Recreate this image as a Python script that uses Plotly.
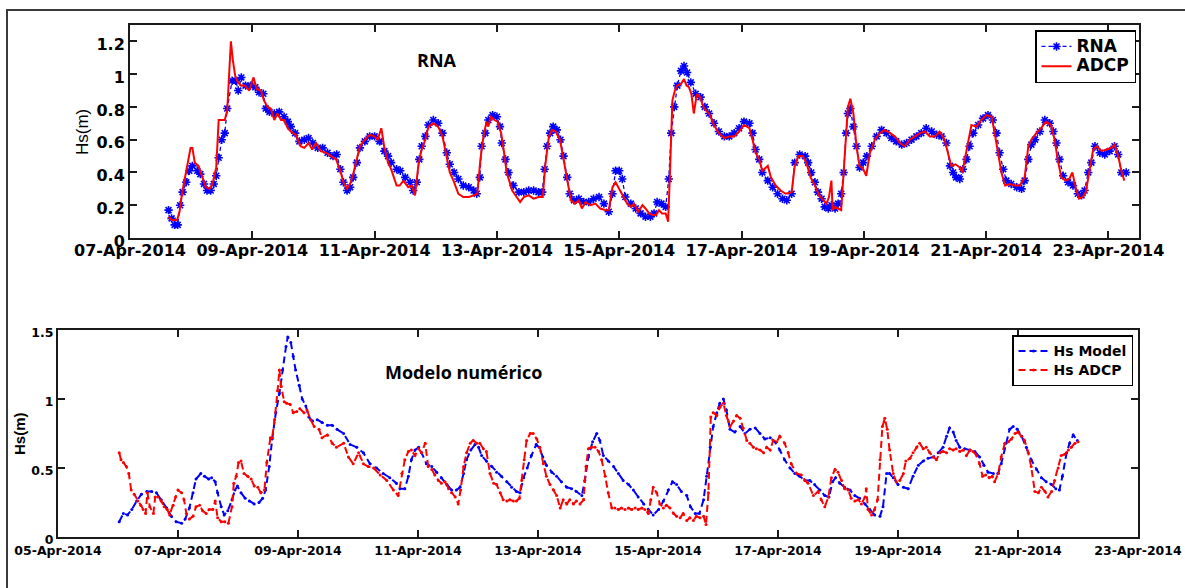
import numpy as np
import pandas as pd
import plotly.graph_objects as go

# ---------------- data (day of April 2014, Hs in metres) ----------------
rna_day = [7.63, 7.68, 7.73, 7.78, 7.82, 7.86, 7.92, 7.97, 8.02, 8.10, 8.15, 8.21, 8.26, 8.32, 8.37, 8.41, 8.45, 8.50,
           8.55, 8.59, 8.67, 8.73, 8.77, 8.82, 8.89, 8.97, 9.05, 9.11, 9.18, 9.22, 9.28, 9.36, 9.44, 9.52, 9.58, 9.63,
           9.70, 9.77, 9.85, 9.92, 9.99, 10.07, 10.15, 10.23, 10.32, 10.38, 10.44, 10.49, 10.55, 10.60, 10.65, 10.71,
           10.76, 10.84, 10.92, 11.00, 11.08, 11.16, 11.22, 11.27, 11.36, 11.42, 11.50, 11.58, 11.63, 11.69, 11.73,
           11.77, 11.83, 11.88, 11.96, 12.04, 12.11, 12.18, 12.23, 12.30, 12.37, 12.45, 12.54, 12.62, 12.67, 12.72,
           12.75, 12.81, 12.86, 12.93, 13.00, 13.05, 13.08, 13.14, 13.19, 13.27, 13.36, 13.44, 13.52, 13.60, 13.68,
           13.74, 13.78, 13.82, 13.87, 13.92, 13.98, 14.04, 14.09, 14.15, 14.19, 14.26, 14.34, 14.42, 14.50, 14.58,
           14.67, 14.75, 14.83, 14.89, 14.94, 15.00, 15.05, 15.10, 15.19, 15.27, 15.35, 15.43, 15.51, 15.57, 15.62,
           15.69, 15.76, 15.81, 15.85, 15.90, 15.95, 16.01, 16.06, 16.11, 16.17, 16.25, 16.33, 16.40, 16.47, 16.55,
           16.63, 16.72, 16.80, 16.88, 16.96, 17.04, 17.13, 17.18, 17.23, 17.29, 17.34, 17.43, 17.51, 17.59, 17.67,
           17.74, 17.82, 17.87, 17.95, 18.04, 18.09, 18.14, 18.20, 18.25, 18.31, 18.36, 18.42, 18.47, 18.53, 18.58,
           18.63, 18.67, 18.71, 18.74, 18.78, 18.83, 18.88, 18.93, 18.99, 19.05, 19.13, 19.21, 19.29, 19.37, 19.45,
           19.53, 19.62, 19.70, 19.78, 19.86, 19.94, 20.02, 20.11, 20.19, 20.27, 20.35, 20.41, 20.46, 20.51, 20.57,
           20.62, 20.68, 20.73, 20.79, 20.87, 20.95, 21.03, 21.11, 21.17, 21.22, 21.28, 21.33, 21.41, 21.50, 21.58,
           21.63, 21.69, 21.74, 21.80, 21.88, 21.96, 22.04, 22.10, 22.15, 22.20, 22.26, 22.34, 22.42, 22.50, 22.56,
           22.61, 22.67, 22.72, 22.78, 22.86, 22.94, 23.02, 23.10, 23.16, 23.21, 23.29]
rna_hs = [0.17, 0.12, 0.08, 0.08, 0.20, 0.28, 0.34, 0.41, 0.44, 0.41, 0.39, 0.33, 0.29, 0.29, 0.33, 0.38, 0.49, 0.60,
          0.64, 0.79, 0.96, 0.96, 0.90, 0.98, 0.93, 0.93, 0.92, 0.89, 0.88, 0.79, 0.77, 0.76, 0.77, 0.74, 0.71, 0.68,
          0.64, 0.59, 0.60, 0.61, 0.58, 0.55, 0.55, 0.52, 0.50, 0.51, 0.42, 0.34, 0.29, 0.31, 0.37, 0.46,
          0.55, 0.59, 0.62, 0.62, 0.59, 0.53, 0.50, 0.46, 0.42, 0.41, 0.37, 0.34, 0.29, 0.34, 0.48,
          0.56, 0.62, 0.69, 0.72, 0.70, 0.64, 0.52, 0.45, 0.40, 0.36, 0.32, 0.31, 0.29, 0.27, 0.37,
          0.56, 0.64, 0.72, 0.75, 0.74, 0.68, 0.58, 0.48, 0.40, 0.32, 0.28, 0.28, 0.29, 0.29, 0.28,
          0.28, 0.42, 0.56, 0.64, 0.68, 0.66, 0.60, 0.50, 0.37, 0.27, 0.23, 0.24, 0.22, 0.22, 0.24,
          0.25, 0.21, 0.16, 0.27, 0.41, 0.41, 0.36, 0.25, 0.21, 0.18, 0.15, 0.13, 0.13, 0.15, 0.22,
          0.21, 0.19, 0.36, 0.64, 0.80, 0.93, 1.02, 1.05, 1.01, 0.95, 0.88, 0.86, 0.80, 0.76, 0.70,
          0.65, 0.62, 0.62, 0.64, 0.67, 0.71, 0.70, 0.64, 0.54, 0.48, 0.40, 0.35, 0.31, 0.27, 0.24,
          0.23, 0.27, 0.46, 0.51, 0.50, 0.46, 0.40, 0.34, 0.28, 0.24, 0.19, 0.18, 0.20, 0.18, 0.21,
          0.27, 0.40, 0.64, 0.76, 0.79, 0.68, 0.56, 0.43, 0.46, 0.50, 0.56, 0.62, 0.66, 0.64, 0.61,
          0.59, 0.57, 0.58, 0.60, 0.62, 0.64, 0.67, 0.65, 0.63, 0.62, 0.58, 0.44, 0.40, 0.37, 0.36,
          0.42, 0.48, 0.56, 0.64, 0.69, 0.73, 0.75, 0.72, 0.64, 0.52, 0.42, 0.35, 0.33, 0.31, 0.30,
          0.35, 0.48, 0.57, 0.60, 0.65, 0.72, 0.70, 0.65, 0.58, 0.48, 0.38, 0.34, 0.32, 0.27, 0.26,
          0.29, 0.40, 0.46, 0.56, 0.52, 0.51, 0.53, 0.56, 0.51, 0.40, 0.40]

adcp_day = [7.63, 7.68, 7.77, 7.81, 7.85, 7.90, 7.96, 7.99, 8.02, 8.06, 8.12, 8.18, 8.24, 8.30, 8.35, 8.41, 8.45, 8.51,
            8.55, 8.59, 8.62, 8.65, 8.68, 8.72, 8.75, 8.81, 8.88, 8.95, 9.02, 9.07, 9.14, 9.19, 9.25, 9.30, 9.36, 9.41,
            9.47, 9.52, 9.58, 9.63, 9.71, 9.79, 9.85, 9.92, 9.98, 10.04, 10.12, 10.21, 10.29, 10.37, 10.44, 10.49,
            10.55, 10.60, 10.65, 10.71, 10.76, 10.84, 10.92, 11.00, 11.05, 11.11, 11.16, 11.22, 11.27, 11.36, 11.41,
            11.47, 11.55, 11.61, 11.66, 11.72, 11.77, 11.83, 11.88, 11.96, 12.04, 12.11, 12.18, 12.23, 12.29, 12.37,
            12.45, 12.54, 12.62, 12.68, 12.73, 12.78, 12.83, 12.86, 12.90, 12.96, 13.01, 13.07, 13.11, 13.16, 13.25,
            13.33, 13.38, 13.44, 13.52, 13.60, 13.68, 13.75, 13.79, 13.85, 13.90, 13.96, 14.03, 14.09, 14.15, 14.21,
            14.28, 14.34, 14.39, 14.45, 14.53, 14.61, 14.69, 14.78, 14.83, 14.89, 14.94, 15.00, 15.05, 15.13, 15.19,
            15.24, 15.31, 15.38, 15.43, 15.49, 15.54, 15.60, 15.65, 15.70, 15.76, 15.80, 15.83, 15.87, 15.91, 15.95,
            16.01, 16.06, 16.10, 16.14, 16.18, 16.22, 16.27, 16.32, 16.39, 16.47, 16.55, 16.63, 16.72, 16.80, 16.88,
            16.96, 17.04, 17.13, 17.18, 17.23, 17.29, 17.34, 17.43, 17.48, 17.56, 17.64, 17.72, 17.82, 17.87, 17.93,
            18.00, 18.06, 18.13, 18.20, 18.27, 18.34, 18.39, 18.43, 18.47, 18.49, 18.53, 18.58, 18.63, 18.67, 18.71,
            18.74, 18.78, 18.83, 18.88, 18.93, 18.99, 19.04, 19.10, 19.18, 19.26, 19.34, 19.43, 19.51, 19.59, 19.67,
            19.75, 19.83, 19.92, 20.00, 20.08, 20.16, 20.24, 20.32, 20.38, 20.43, 20.50, 20.57, 20.61, 20.65, 20.70,
            20.76, 20.84, 20.92, 21.01, 21.09, 21.14, 21.20, 21.25, 21.31, 21.39, 21.47, 21.55, 21.63, 21.69, 21.74,
            21.82, 21.90, 21.98, 22.06, 22.12, 22.17, 22.23, 22.30, 22.36, 22.41, 22.47, 22.52, 22.58, 22.63, 22.69,
            22.75, 22.81, 22.89, 22.97, 23.05, 23.10, 23.16, 23.21, 23.26]
adcp_hs = [0.13, 0.11, 0.11, 0.16, 0.27, 0.37, 0.48, 0.55, 0.55, 0.46, 0.44, 0.37, 0.31, 0.30, 0.33, 0.43, 0.72, 0.72,
           0.72, 0.78, 0.97, 1.20, 1.09, 0.99, 0.96, 0.93, 0.93, 0.90, 0.98, 0.91, 0.90, 0.84, 0.80, 0.79, 0.72, 0.76,
           0.72, 0.72, 0.67, 0.65, 0.63, 0.56, 0.55, 0.58, 0.54, 0.58, 0.53, 0.52, 0.50, 0.48, 0.41, 0.34,
           0.30, 0.33, 0.39, 0.48, 0.56, 0.60, 0.63, 0.62, 0.60, 0.67, 0.55, 0.46, 0.42, 0.32, 0.32,
           0.35, 0.31, 0.32, 0.26, 0.46, 0.54, 0.60, 0.68, 0.70, 0.68, 0.62, 0.48, 0.40, 0.35, 0.27,
           0.25, 0.25, 0.26, 0.27, 0.48, 0.62, 0.71, 0.68, 0.74, 0.72, 0.71, 0.64, 0.54, 0.40, 0.29,
           0.25, 0.22, 0.25, 0.26, 0.24, 0.25, 0.25, 0.44, 0.62, 0.66, 0.65, 0.60, 0.48, 0.35, 0.23,
           0.21, 0.23, 0.18, 0.22, 0.20, 0.21, 0.18, 0.17, 0.17, 0.31, 0.34, 0.30, 0.26, 0.21, 0.19,
           0.21, 0.16, 0.20, 0.18, 0.15, 0.14, 0.14, 0.17, 0.15, 0.15, 0.10, 0.40, 0.84, 0.90, 0.93,
           0.94, 0.97, 0.93, 0.92, 0.88, 0.76, 0.88, 0.86, 0.79, 0.76, 0.69, 0.64, 0.61, 0.62, 0.62,
           0.65, 0.69, 0.67, 0.60, 0.52, 0.48, 0.41, 0.44, 0.37, 0.32, 0.29, 0.27, 0.28, 0.44, 0.50,
           0.50, 0.46, 0.37, 0.32, 0.26, 0.23, 0.21, 0.25, 0.35, 0.17, 0.19, 0.18, 0.17, 0.40, 0.60,
           0.80, 0.85, 0.76, 0.56, 0.44, 0.42, 0.38, 0.52, 0.60, 0.64, 0.66, 0.64, 0.62, 0.58, 0.56,
           0.60, 0.62, 0.64, 0.65, 0.62, 0.62, 0.65, 0.60, 0.52, 0.44, 0.45, 0.43, 0.40, 0.48, 0.56,
           0.69, 0.68, 0.72, 0.75, 0.74, 0.64, 0.52, 0.40, 0.32, 0.33, 0.32, 0.32, 0.37, 0.56, 0.60,
           0.64, 0.67, 0.71, 0.69, 0.60, 0.48, 0.37, 0.35, 0.36, 0.40, 0.30, 0.24, 0.25, 0.28, 0.42,
           0.54, 0.56, 0.53, 0.54, 0.55, 0.57, 0.50, 0.41, 0.35]

model_day = [6.02, 6.09, 6.16, 6.23, 6.31, 6.39, 6.48, 6.56, 6.64, 6.72, 6.81, 6.89, 6.97, 7.06, 7.12, 7.19, 7.25,
             7.30, 7.38, 7.44, 7.51, 7.56, 7.62, 7.66, 7.72, 7.77, 7.83, 7.90, 7.95, 7.99, 8.05, 8.12, 8.19, 8.27,
             8.35, 8.41, 8.46, 8.52, 8.57, 8.63, 8.69, 8.74, 8.80, 8.83, 8.88, 8.92, 8.96, 9.02, 9.07, 9.13, 9.18,
             9.24, 9.32, 9.40, 9.49, 9.57, 9.65, 9.76, 9.87, 9.98, 10.09, 10.20, 10.31, 10.42, 10.53, 10.64, 10.70,
             10.78, 10.84, 10.89, 10.95, 11.01, 11.06, 11.14, 11.23, 11.31, 11.39, 11.48, 11.56, 11.64, 11.70, 11.76,
             11.81, 11.88, 11.95, 12.01, 12.06, 12.14, 12.23, 12.31, 12.39, 12.48, 12.56, 12.64, 12.70, 12.76, 12.82,
             12.89, 12.97, 13.02, 13.08, 13.14, 13.23, 13.31, 13.39, 13.48, 13.56, 13.64, 13.73, 13.78, 13.84, 13.91,
             13.98, 14.03, 14.09, 14.17, 14.26, 14.34, 14.42, 14.51, 14.59, 14.67, 14.76, 14.84, 14.92, 15.01, 15.09,
             15.17, 15.24, 15.31, 15.39, 15.48, 15.54, 15.62, 15.69, 15.76, 15.81, 15.87, 15.92, 15.98, 16.03, 16.09,
             16.14, 16.20, 16.28, 16.37, 16.45, 16.53, 16.62, 16.70, 16.78, 16.87, 16.95, 17.03, 17.11, 17.20, 17.28,
             17.36, 17.45, 17.53, 17.61, 17.70, 17.78, 17.85, 17.91, 17.96, 18.03, 18.11, 18.20, 18.28, 18.36, 18.45,
             18.53, 18.61, 18.70, 18.75, 18.81, 18.86, 18.92, 19.00, 19.09, 19.17, 19.25, 19.34, 19.42, 19.50, 19.59,
             19.67, 19.75, 19.81, 19.86, 19.92, 19.97, 20.03, 20.11, 20.20, 20.28, 20.36, 20.43, 20.50, 20.59, 20.67,
             20.72, 20.80, 20.86, 20.92, 20.99, 21.06, 21.14, 21.22, 21.31, 21.39, 21.47, 21.56, 21.63, 21.69, 21.74,
             21.81, 21.86, 21.92, 21.99]
model_hs = [0.11, 0.17, 0.16, 0.20, 0.26, 0.31, 0.33, 0.33, 0.32, 0.27, 0.21, 0.15, 0.11, 0.10, 0.13, 0.21, 0.32,
            0.42, 0.46, 0.44, 0.42, 0.43, 0.40, 0.32, 0.22, 0.16, 0.19, 0.27, 0.34, 0.37, 0.32, 0.28, 0.26, 0.24,
            0.25, 0.28, 0.34, 0.51, 0.71, 0.90, 1.04, 1.21, 1.38, 1.45, 1.41, 1.31, 1.21, 1.10, 1.00, 0.95, 0.87,
            0.84, 0.85, 0.83, 0.81, 0.81, 0.78, 0.75, 0.67, 0.65, 0.61, 0.53, 0.50, 0.46, 0.43, 0.39, 0.35,
            0.35, 0.44, 0.56, 0.63, 0.65, 0.61, 0.53, 0.51, 0.47, 0.43, 0.38, 0.34, 0.34, 0.36, 0.46,
            0.56, 0.63, 0.67, 0.65, 0.59, 0.55, 0.51, 0.47, 0.44, 0.40, 0.36, 0.33, 0.32, 0.43, 0.50,
            0.59, 0.67, 0.65, 0.58, 0.52, 0.47, 0.44, 0.40, 0.36, 0.35, 0.33, 0.30, 0.41, 0.58, 0.69,
            0.75, 0.70, 0.59, 0.55, 0.51, 0.46, 0.41, 0.38, 0.34, 0.29, 0.24, 0.20, 0.16, 0.20, 0.26,
            0.34, 0.40, 0.38, 0.33, 0.30, 0.22, 0.17, 0.17, 0.27, 0.44, 0.65, 0.80, 0.90, 0.97, 1.00,
            0.92, 0.78, 0.76, 0.80, 0.75, 0.78, 0.79, 0.75, 0.71, 0.72, 0.69, 0.63, 0.56, 0.50, 0.46,
            0.44, 0.41, 0.41, 0.38, 0.34, 0.30, 0.29, 0.40, 0.43, 0.39, 0.36, 0.34, 0.30, 0.28, 0.24,
            0.20, 0.16, 0.15, 0.22, 0.46, 0.46, 0.43, 0.38, 0.36, 0.35, 0.44, 0.52, 0.55, 0.57, 0.58,
            0.61, 0.65, 0.73, 0.79, 0.76, 0.70, 0.65, 0.64, 0.63, 0.62, 0.58, 0.52, 0.47, 0.46, 0.46,
            0.53, 0.68, 0.78, 0.80, 0.78, 0.73, 0.65, 0.56, 0.49, 0.43, 0.40, 0.38, 0.35, 0.34, 0.44,
            0.61, 0.68, 0.74, 0.70]

adcp2_day = [6.02, 6.05, 6.09, 6.14, 6.18, 6.22, 6.27, 6.33, 6.38, 6.42, 6.46, 6.49, 6.53, 6.59, 6.62, 6.67, 6.72,
             6.77, 6.82, 6.86, 6.92, 6.96, 7.00, 7.06, 7.10, 7.14, 7.19, 7.25, 7.30, 7.36, 7.41, 7.47, 7.52, 7.58,
             7.62, 7.66, 7.72, 7.78, 7.84, 7.90, 7.93, 7.97, 8.01, 8.05, 8.10, 8.16, 8.22, 8.27, 8.33, 8.38, 8.44,
             8.48, 8.54, 8.57, 8.61, 8.66, 8.69, 8.72, 8.77, 8.81, 8.87, 8.92, 8.98, 9.03, 9.10, 9.15, 9.21, 9.27,
             9.35, 9.40, 9.49, 9.57, 9.64, 9.76, 9.84, 9.92, 10.01, 10.09, 10.17, 10.26, 10.37, 10.48, 10.59, 10.67,
             10.73, 10.78, 10.84, 10.89, 10.95, 11.01, 11.06, 11.12, 11.17, 11.23, 11.28, 11.34, 11.39, 11.45, 11.51,
             11.56, 11.62, 11.67, 11.71, 11.76, 11.81, 11.87, 11.92, 11.98, 12.03, 12.09, 12.14, 12.20, 12.26, 12.31,
             12.37, 12.42, 12.48, 12.53, 12.59, 12.64, 12.69, 12.73, 12.77, 12.81, 12.87, 12.92, 12.98, 13.03, 13.09,
             13.14, 13.20, 13.26, 13.31, 13.37, 13.42, 13.48, 13.53, 13.59, 13.64, 13.70, 13.76, 13.80, 13.84, 13.89,
             13.95, 14.01, 14.06, 14.12, 14.17, 14.23, 14.28, 14.34, 14.39, 14.45, 14.51, 14.56, 14.62, 14.67, 14.73,
             14.78, 14.84, 14.88, 14.92, 14.98, 15.03, 15.09, 15.14, 15.20, 15.26, 15.31, 15.37, 15.42, 15.48, 15.53,
             15.59, 15.64, 15.70, 15.76, 15.80, 15.84, 15.88, 15.92, 15.98, 16.03, 16.09, 16.14, 16.20, 16.26, 16.31,
             16.37, 16.42, 16.48, 16.53, 16.59, 16.64, 16.70, 16.76, 16.81, 16.87, 16.92, 16.98, 17.03, 17.11, 17.17,
             17.22, 17.31, 17.39, 17.45, 17.50, 17.59, 17.67, 17.72, 17.78, 17.84, 17.89, 17.95, 18.00, 18.06, 18.11,
             18.17, 18.22, 18.28, 18.34, 18.39, 18.45, 18.47, 18.50, 18.56, 18.61, 18.66, 18.70, 18.74, 18.78, 18.82,
             18.86, 18.92, 18.97, 19.03, 19.09, 19.13, 19.20, 19.25, 19.31, 19.36, 19.42, 19.47, 19.53, 19.59, 19.64,
             19.70, 19.75, 19.81, 19.86, 19.92, 19.97, 20.03, 20.09, 20.14, 20.20, 20.25, 20.31, 20.36, 20.41, 20.46,
             20.52, 20.57, 20.61, 20.67, 20.72, 20.78, 20.84, 20.89, 20.95, 21.00, 21.06, 21.11, 21.17, 21.22, 21.28,
             21.34, 21.39, 21.45, 21.50, 21.56, 21.61, 21.67, 21.72, 21.78, 21.84, 21.89, 21.95, 22.00]
adcp2_hs = [0.61, 0.56, 0.54, 0.51, 0.46, 0.34, 0.31, 0.26, 0.23, 0.20, 0.17, 0.32, 0.22, 0.17, 0.29, 0.29, 0.26,
            0.22, 0.20, 0.16, 0.23, 0.29, 0.34, 0.32, 0.27, 0.17, 0.13, 0.15, 0.22, 0.23, 0.19, 0.17, 0.20, 0.20,
            0.26, 0.14, 0.11, 0.11, 0.10, 0.22, 0.39, 0.44, 0.54, 0.55, 0.46, 0.44, 0.42, 0.37, 0.36, 0.32, 0.34,
            0.54, 0.72, 0.72, 0.85, 1.06, 1.21, 1.09, 0.98, 0.97, 0.96, 0.90, 0.91, 0.93, 0.90, 0.92, 0.85, 0.80,
            0.78, 0.72, 0.74, 0.68, 0.65, 0.68, 0.58, 0.53, 0.61, 0.53, 0.51, 0.50, 0.45, 0.41, 0.34, 0.30,
            0.46, 0.56, 0.62, 0.63, 0.59, 0.64, 0.61, 0.68, 0.51, 0.49, 0.45, 0.41, 0.39, 0.40, 0.35,
            0.32, 0.29, 0.24, 0.34, 0.51, 0.61, 0.68, 0.70, 0.68, 0.68, 0.64, 0.62, 0.46, 0.39, 0.38,
            0.32, 0.27, 0.26, 0.27, 0.26, 0.26, 0.28, 0.41, 0.56, 0.70, 0.75, 0.75, 0.71, 0.65, 0.53,
            0.44, 0.38, 0.34, 0.30, 0.21, 0.27, 0.24, 0.27, 0.24, 0.26, 0.24, 0.27, 0.51, 0.64, 0.65,
            0.65, 0.62, 0.56, 0.44, 0.32, 0.21, 0.21, 0.20, 0.21, 0.20, 0.21, 0.20, 0.21, 0.20, 0.21,
            0.20, 0.17, 0.27, 0.36, 0.32, 0.24, 0.21, 0.23, 0.21, 0.17, 0.15, 0.14, 0.17, 0.12, 0.14,
            0.12, 0.15, 0.14, 0.15, 0.09, 0.32, 0.87, 0.90, 0.88, 0.94, 0.97, 0.88, 0.80, 0.84, 0.88,
            0.86, 0.79, 0.70, 0.68, 0.65, 0.64, 0.63, 0.61, 0.65, 0.63, 0.70, 0.69, 0.73, 0.68, 0.61,
            0.53, 0.46, 0.45, 0.41, 0.39, 0.30, 0.33, 0.27, 0.22, 0.29, 0.43, 0.49, 0.47, 0.41, 0.35,
            0.34, 0.28, 0.26, 0.27, 0.24, 0.29, 0.35, 0.20, 0.16, 0.20, 0.27, 0.56, 0.80, 0.86, 0.78,
            0.63, 0.46, 0.40, 0.41, 0.46, 0.55, 0.57, 0.61, 0.65, 0.68, 0.64, 0.65, 0.61, 0.58, 0.56,
            0.61, 0.62, 0.61, 0.64, 0.63, 0.64, 0.62, 0.63, 0.59, 0.63, 0.62, 0.59, 0.53, 0.44, 0.45,
            0.43, 0.44, 0.40, 0.46, 0.58, 0.68, 0.69, 0.71, 0.75, 0.76, 0.73, 0.70, 0.61, 0.51, 0.33,
            0.32, 0.36, 0.33, 0.29, 0.33, 0.41, 0.50, 0.59, 0.60, 0.63, 0.65, 0.68, 0.69]

top_tick_days = [7, 9, 11, 13, 15, 17, 19, 21, 23]
bottom_tick_days = [5, 7, 9, 11, 13, 15, 17, 19, 21, 23]
top_yticks = [0, 0.2, 0.4, 0.6, 0.8, 1.0, 1.2]
bottom_yticks = [0, 0.5, 1.0, 1.5]

# ---------------- helpers ----------------
BASE = pd.Timestamp("2014-04-01")


def to_time(days):
    return BASE + pd.to_timedelta(np.asarray(days, dtype=float) - 1.0, unit="D")


def tick_text(days):
    return [to_time([d])[0].strftime("%d-%b-%Y") for d in days]


W, H = 1185, 588


def px(x):
    return x / W


def py(y):
    return 1 - y / H


def big(label, size):
    # legend labels rendered larger than the row spacing font
    return f'<span style="font-size:{size}px">{label}</span>'


BLUE = "#0000ff"
RED = "#ff0000"
AX = "#1a1a1a"
TICKFONT = "DejaVu Sans"

fig = go.Figure()

# top panel: RNA vs ADCP
fig.add_trace(go.Scatter(
    x=to_time(rna_day), y=rna_hs, name=big("RNA", 17), mode="lines+markers",
    line=dict(color=BLUE, width=1.3, dash="4px,3px"),
    marker=dict(symbol="asterisk-open", size=7, color=BLUE, line=dict(width=1.6, color=BLUE)),
    xaxis="x", yaxis="y", legend="legend"))
fig.add_trace(go.Scatter(
    x=to_time(adcp_day), y=adcp_hs, name=big("ADCP", 17), mode="lines",
    line=dict(color=RED, width=2),
    xaxis="x", yaxis="y", legend="legend"))

# bottom panel: numerical model vs ADCP
fig.add_trace(go.Scatter(
    x=to_time(model_day), y=model_hs, name=big("Hs Model", 14), mode="lines+markers",
    line=dict(color=BLUE, width=2, dash="7px,4px"),
    marker=dict(symbol="circle", size=3, color=BLUE),
    xaxis="x2", yaxis="y2", legend="legend2"))
fig.add_trace(go.Scatter(
    x=to_time(adcp2_day), y=adcp2_hs, name=big("Hs ADCP", 14), mode="lines+markers",
    line=dict(color=RED, width=2, dash="7px,4px"),
    marker=dict(symbol="circle", size=3, color=RED),
    xaxis="x2", yaxis="y2", legend="legend2"))

axis_common = dict(showline=True, linecolor=AX, linewidth=2, mirror="ticks", ticks="inside",
                   ticklen=7, tickwidth=1.5, tickcolor=AX, showgrid=False, zeroline=False,
                   automargin=False)

fig.update_layout(
    width=W, height=H,
    margin=dict(l=0, r=0, t=0, b=0, pad=0),
    paper_bgcolor="white", plot_bgcolor="white",
    xaxis=dict(axis_common, domain=[px(130), px(1139)], anchor="y", type="date",
               range=[to_time([7])[0], to_time([23.5])[0]],
               tickvals=to_time(top_tick_days), ticktext=tick_text(top_tick_days),
               ticklabelstandoff=-3,
               tickfont=dict(family=TICKFONT, size=16, color="black", weight="bold")),
    yaxis=dict(axis_common, domain=[py(238), py(25)], anchor="x", range=[0, 1.3],
               tickvals=top_yticks, ticktext=["0", "0.2", "0.4", "0.6", "0.8", "1", "1.2"],
               ticklabelshift=3,
               tickfont=dict(family=TICKFONT, size=16, color="black", weight="bold")),
    xaxis2=dict(axis_common, domain=[px(58), px(1138)], anchor="y2", type="date",
                range=[to_time([5])[0], to_time([23])[0]],
                tickvals=to_time(bottom_tick_days), ticktext=tick_text(bottom_tick_days),
                ticklabelstandoff=1,
                tickfont=dict(family=TICKFONT, size=12.5, color="black", weight="bold")),
    yaxis2=dict(axis_common, domain=[py(537), py(330)], anchor="x2", range=[0, 1.5],
                tickvals=bottom_yticks, ticktext=["0", "0.5", "1", "1.5"],
                ticklabelshift=3,
                tickfont=dict(family=TICKFONT, size=12.5, color="black", weight="bold")),
    legend=dict(x=px(1136), xanchor="right", y=py(30), yanchor="top",
                bgcolor="white", bordercolor="black", borderwidth=1.5,
                font=dict(family=TICKFONT, size=13, color="black", weight="bold"),
                tracegroupgap=0, itemwidth=30),
    legend2=dict(x=px(1133), xanchor="right", y=py(335), yanchor="top",
                 bgcolor="white", bordercolor="black", borderwidth=1.5,
                 font=dict(family=TICKFONT, size=11.5, color="black", weight="bold"),
                 tracegroupgap=0, itemwidth=30),
    showlegend=True,
)

annotations = [
    dict(text="RNA", x=px(437), y=py(60), xref="paper", yref="paper", showarrow=False,
         xanchor="center", yanchor="middle",
         font=dict(family="Open Sans", size=18, color="black", weight="bold")),
    dict(text="Modelo numérico", x=px(464), y=py(372), xref="paper", yref="paper", showarrow=False,
         xanchor="center", yanchor="middle",
         font=dict(family="Open Sans", size=18, color="black", weight="bold")),
    dict(text="Hs(m)", x=px(82), y=py(132), xref="paper", yref="paper", showarrow=False, textangle=-90,
         xanchor="center", yanchor="middle",
         font=dict(family="Liberation Sans", size=17, color="black")),
    dict(text="Hs(m)", x=px(19), y=py(434), xref="paper", yref="paper", showarrow=False, textangle=-90,
         xanchor="center", yanchor="middle",
         font=dict(family="Liberation Sans", size=15, color="black", weight="bold")),
]
fig.update_layout(annotations=annotations)

# outer frame (left and top edges visible)
fig.add_shape(type="rect", xref="paper", yref="paper", x0=px(7), x1=px(1200), y0=py(600), y1=py(10),
              line=dict(color="#3a3a3a", width=2), fillcolor="rgba(0,0,0,0)", layer="below")

fig.write_html("out.html")
